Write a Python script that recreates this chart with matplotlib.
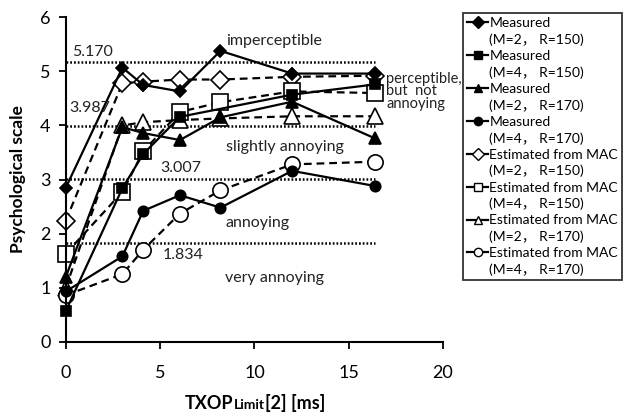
import matplotlib
matplotlib.use("Agg")
import matplotlib.pyplot as plt
from matplotlib.lines import Line2D
from matplotlib.offsetbox import TextArea, HPacker, AnchoredOffsetbox

plt.rcParams["font.family"] = ["Lato", "Noto Sans CJK JP", "DejaVu Sans"]

# TXOP limit values [ms]
txop = [0, 3, 4.1, 6.05, 8.2, 12, 16.4]

# measured psychological scale
meas_m2_r150 = [2.85, 5.07, 4.75, 4.63, 5.38, 4.96, 4.96]
meas_m4_r150 = [0.57, 2.84, 3.47, 4.16, None, 4.57, 4.76]
meas_m2_r170 = [1.2, 3.97, 3.86, 3.73, 4.15, 4.44, 3.76]
meas_m4_r170 = [0.93, 1.58, 2.42, 2.71, 2.48, 3.16, 2.88]

# estimated from MAC
est_m2_r150 = [2.24, 4.78, 4.81, 4.85, 4.85, 4.9, 4.92]
est_m4_r150 = [1.63, 2.77, 3.52, 4.25, 4.43, 4.63, 4.6]
est_m2_r170 = [1.0, 4.0, 4.06, 4.1, 4.13, 4.17, 4.17]
est_m4_r170 = [0.86, 1.25, 1.7, 2.37, 2.8, 3.28, 3.33]

# category boundaries and names
thresholds = [5.170, 3.987, 3.007, 1.834]
threshold_labels = ["5.170", "3.987", "3.007", "1.834"]
category_names = ["imperceptible", "perceptible,\nbut  not\nannoying",
                  "slightly annoying", "annoying", "very annoying"]

series = [
    ("Measured", "(M=2\uff0c R=150)", meas_m2_r150, "D", True, 6.5),
    ("Measured", "(M=4\uff0c R=150)", meas_m4_r150, "s", True, 7),
    ("Measured", "(M=2\uff0c R=170)", meas_m2_r170, "^", True, 8),
    ("Measured", "(M=4\uff0c R=170)", meas_m4_r170, "o", True, 7.5),
    ("Estimated from MAC", "(M=2\uff0c R=150)", est_m2_r150, "D", False, 9.5),
    ("Estimated from MAC", "(M=4\uff0c R=150)", est_m4_r150, "s", False, 11),
    ("Estimated from MAC", "(M=2\uff0c R=170)", est_m2_r170, "^", False, 11),
    ("Estimated from MAC", "(M=4\uff0c R=170)", est_m4_r170, "o", False, 11),
]

fig = plt.figure(figsize=(6.27, 4.15), dpi=100)
ax = fig.add_axes([0.105, 0.1766, 0.6015, 0.7816])

# dotted category boundaries
for t in thresholds:
    ax.plot([0, 16.4], [t, t], color="black", lw=1.8, ls=(0, (0.7, 0.8)), zorder=1)

handles, labels = [], []
for name, params, vals, mk, filled, ms in series:
    xs = [x for x, v in zip(txop, vals) if v is not None]
    ys = [v for v in vals if v is not None]
    ax.plot(xs, ys, color="black", lw=1.6,
            ls="-" if filled else (0, (3.5, 2.2)),
            marker=mk, markersize=ms,
            markerfacecolor="black" if filled else "white",
            markeredgecolor="black", markeredgewidth=1.2,
            clip_on=False, zorder=3 if filled else 2)
    handles.append(Line2D([], [], color="black", lw=1.6, marker=mk, markersize=6,
                          markerfacecolor="black" if filled else "white",
                          markeredgecolor="black", markeredgewidth=1.0))
    labels.append(name)
    handles.append(Line2D([], [], color="none"))
    labels.append(params)

# threshold values
txt = dict(fontsize=11.5, color="#222222")
ax.text(0.35, 5.36, threshold_labels[0], va="center", **txt)
ax.text(0.2, 4.32, threshold_labels[1], va="center", **txt)
ax.text(5.0, 3.21, threshold_labels[2], va="center", **txt)
ax.text(5.15, 1.60, threshold_labels[3], va="center", **txt)

# category names
ax.text(8.5, 5.56, category_names[0], va="center", **txt)
ax.text(17.0, 4.99, category_names[1], va="top", fontsize=10.5,
        color="#222222", linespacing=0.85, clip_on=False)
ax.text(8.5, 3.6, category_names[2], va="center", **txt)
ax.text(8.45, 2.19, category_names[3], va="center", **txt)
ax.text(8.45, 1.17, category_names[4], va="center", **txt)

ax.set_xlim(0, 20)
ax.set_ylim(0, 6)
ax.set_xticks([0, 5, 10, 15, 20])
ax.set_yticks(range(7))
ax.spines["top"].set_visible(False)
ax.spines["right"].set_visible(False)
ax.spines["left"].set_linewidth(1.5)
ax.spines["bottom"].set_linewidth(1.5)
ax.tick_params(labelsize=13, width=1.3, length=5, direction="out", pad=6)
ax.tick_params(axis="x", pad=12)
ax.set_ylabel("Psychological scale", fontsize=12.5, fontweight="bold", labelpad=10)

# x label with small "Limit"
bold = dict(fontweight="bold", color="black")
xl = HPacker(children=[
    TextArea("TXOP", textprops=dict(fontsize=13, **bold)),
    TextArea("Limit", textprops=dict(fontsize=10, **bold)),
    TextArea("[2] [ms]", textprops=dict(fontsize=13, **bold)),
], align="baseline", pad=0, sep=0)
ax.add_artist(AnchoredOffsetbox(loc="center", child=xl, frameon=False, pad=0,
                                borderpad=0, bbox_to_anchor=(255 / 627, 1 - 403 / 415),
                                bbox_transform=fig.transFigure))

leg = fig.legend(handles, labels, loc="upper left",
                 bbox_to_anchor=(463 / 627, 1 - 13 / 415),
                 fontsize=10, frameon=True, fancybox=False, edgecolor="black",
                 handlelength=1.5, handletextpad=0.1, labelspacing=0.3,
                 borderpad=0.3, borderaxespad=0)
leg.get_frame().set_linewidth(1.3)

fig.savefig("out.png", dpi=100)
